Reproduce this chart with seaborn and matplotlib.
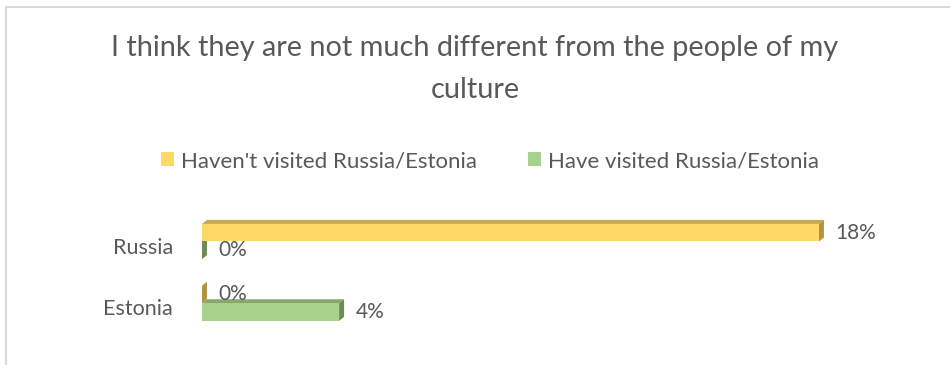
import matplotlib
matplotlib.use("Agg")
import matplotlib.pyplot as plt
import seaborn as sns
import pandas as pd
from matplotlib.patches import Polygon
from matplotlib.lines import Line2D
from matplotlib.transforms import IdentityTransform, ScaledTranslation

# Survey answers (share of respondents, %)
countries = ["Russia", "Estonia"]
groups = ["Haven't visited Russia/Estonia", "Have visited Russia/Estonia"]
not_visited = [18, 0]
visited = [0, 4]
series_values = [not_visited, visited]

title = "I think they are not much different from the people of my\nculture"

front_colors = ["#FFD966", "#A9D18E"]
top_colors = ["#C9A94E", "#87A86D"]
side_colors = ["#B09444", "#6E8A59"]
TEXT = "#595959"

df = pd.DataFrame({
    "country": countries * 2,
    "group": [groups[0]] * len(countries) + [groups[1]] * len(countries),
    "share": not_visited + visited,
})

sns.set_theme(style="white")
plt.rcParams["font.family"] = ["Lato", "DejaVu Sans"]

W, H = 950, 365
fig = plt.figure(figsize=(W / 100, H / 100), dpi=100)
fig.patch.set_facecolor("white")

ax_left, ax_right = 202, 870
ax_top, ax_bottom = 204.45, 340.3
ax = fig.add_axes([ax_left / W, (H - ax_bottom) / H,
                   (ax_right - ax_left) / W, (ax_bottom - ax_top) / H])

sns.barplot(data=df, y="country", x="share", hue="group",
            order=countries, hue_order=groups, palette=front_colors,
            orient="h", width=0.57, saturation=1, errorbar=None,
            linewidth=0, edgecolor="none", ax=ax, zorder=2)

ax.set_xlim(0, 19.49)
ax.set_ylim(1.6, -0.6)
ax.set_xticks([])
ax.set_xlabel("")
ax.set_ylabel("")
for s in ax.spines.values():
    s.set_visible(False)
ax.tick_params(axis="y", length=0, pad=21, labelsize=15.5, labelcolor=TEXT)
# category names sit slightly below the middle of each bar pair
for lbl in ax.get_yticklabels():
    lbl.set_transform(lbl.get_transform() + ScaledTranslation(0, -0.04, fig.dpi_scale_trans))

handles, labels = ax.get_legend_handles_labels()
ax.get_legend().remove()

# 3-D look: a top face and a right face behind each bar
dx, dy = 5, 4
for ci, cont in enumerate(ax.containers):
    for bar in cont:
        x0, y0 = bar.get_x(), bar.get_y()
        w, h = bar.get_width(), bar.get_height()
        (L, b1), (R, b2) = ax.transData.transform([(x0, y0), (x0 + w, y0 + h)])
        T, B = max(b1, b2), min(b1, b2)
        top = Polygon([(L, T), (R, T), (R + dx, T + dy), (L + dx, T + dy)],
                      closed=True, facecolor=top_colors[ci], edgecolor="none",
                      transform=IdentityTransform(), zorder=1, clip_on=False)
        side = Polygon([(R, B), (R, T), (R + dx, T + dy), (R + dx, B + dy)],
                       closed=True, facecolor=side_colors[ci], edgecolor="none",
                       transform=IdentityTransform(), zorder=1, clip_on=False)
        ax.add_artist(top)
        ax.add_artist(side)
    ax.bar_label(cont, labels=[f"{v}%" for v in series_values[ci]],
                 padding=12, fontsize=15, color=TEXT)

fig.legend(handles, labels, loc="center", bbox_to_anchor=(490 / W, 1 - 161 / H),
           ncol=2, frameon=False, handlelength=0.6, handleheight=0.6,
           handletextpad=0.3, columnspacing=2.3, fontsize=16, labelcolor=TEXT)

fig.text(475 / W, 1 - 69 / H, title, ha="center", va="center",
         fontsize=20.8, color=TEXT, linespacing=1.72)

# light chart-area border (top and left edges)
border = "#D9D9D9"
fig.add_artist(Line2D([5.5 / W, 1], [1 - 6.5 / H] * 2, transform=fig.transFigure,
                      color=border, lw=1.5))
fig.add_artist(Line2D([5.5 / W] * 2, [0, 1 - 6.5 / H], transform=fig.transFigure,
                      color=border, lw=1.5))

fig.savefig("out.png", dpi=100)
